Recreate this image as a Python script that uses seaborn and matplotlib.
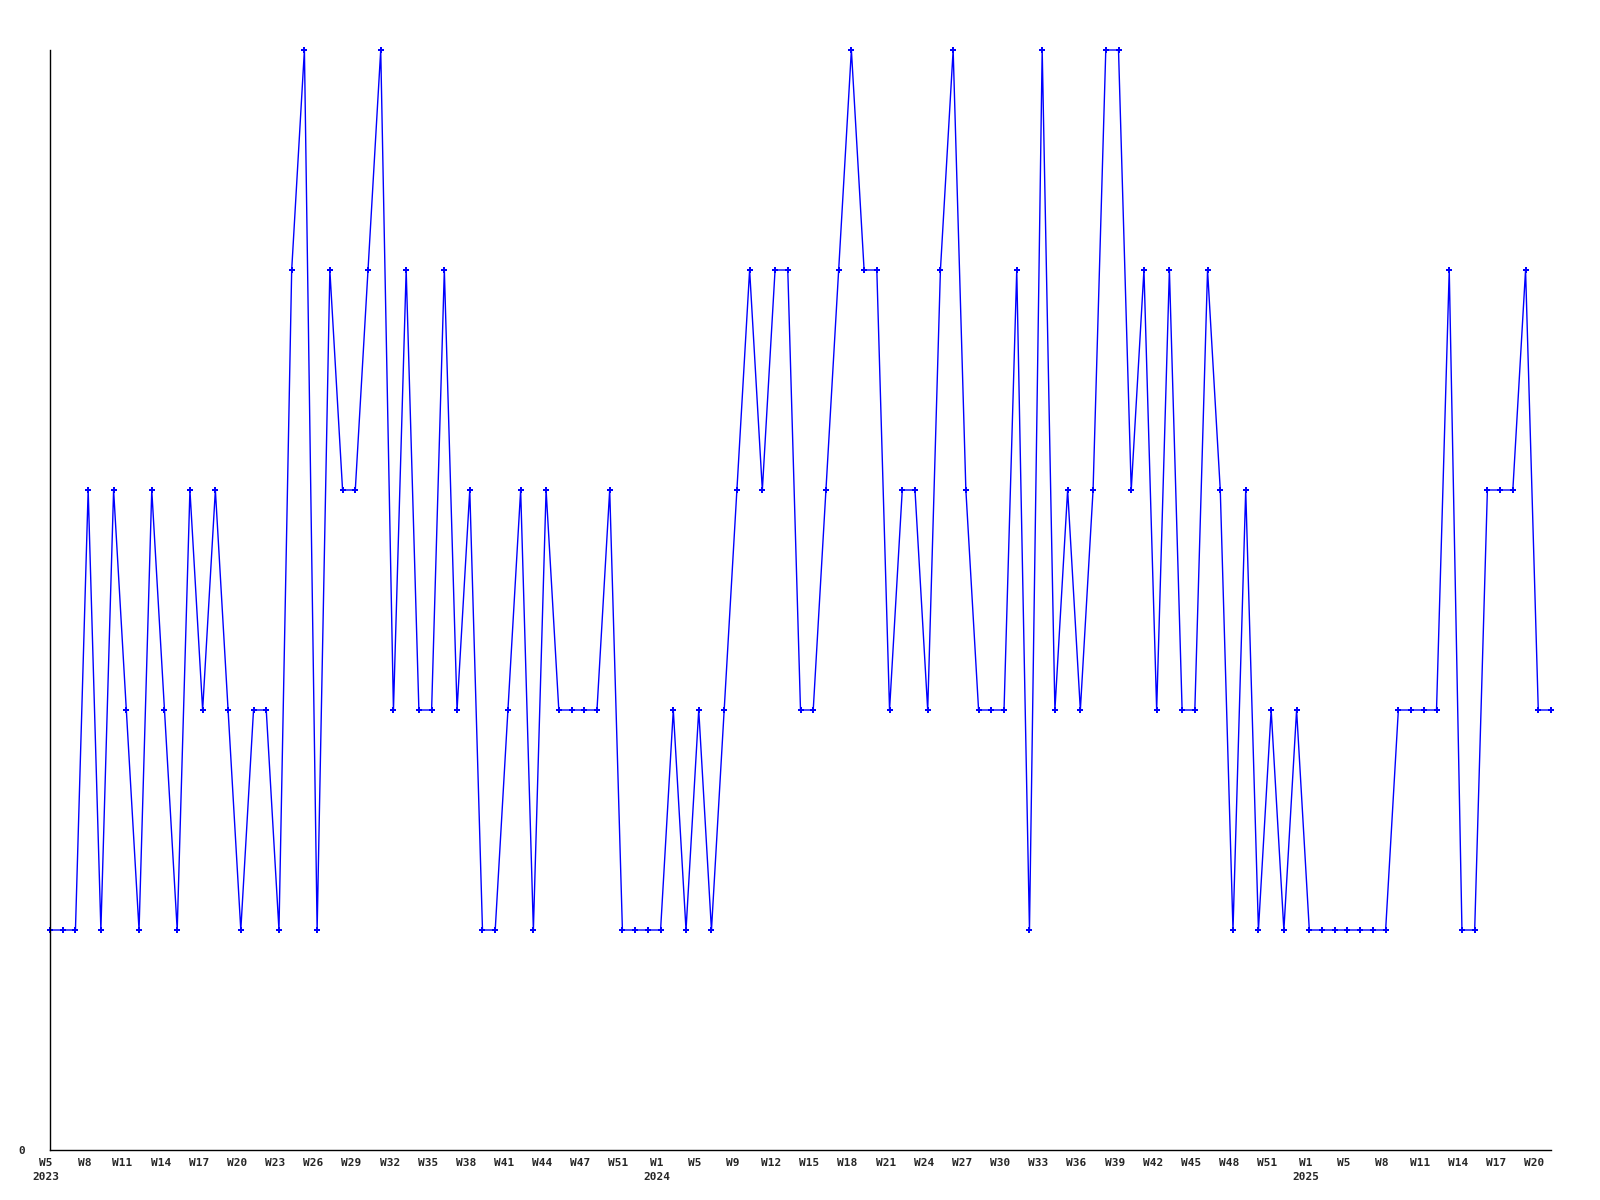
import numpy as np
import pandas as pd
import seaborn as sns
import matplotlib
matplotlib.use("Agg")
import matplotlib.pyplot as plt

# weekly values, 2023 W5 onwards (one value per week)
values = [1, 1, 1, 3, 1, 3, 2, 1, 3, 2,
          1, 3, 2, 3, 2, 1, 2, 2, 1, 4,
          5, 1, 4, 3, 3, 4, 5, 2, 4, 2,
          2, 4, 2, 3, 1, 1, 2, 3, 1, 3,
          2, 2, 2, 2, 3, 1, 1, 1, 1, 2,
          1, 2, 1, 2, 3, 4, 3, 4, 4, 2,
          2, 3, 4, 5, 4, 4, 2, 3, 3, 2,
          4, 5, 3, 2, 2, 2, 4, 1, 5, 2,
          3, 2, 3, 5, 5, 3, 4, 2, 4, 2,
          2, 4, 3, 1, 3, 1, 2, 1, 2, 1,
          1, 1, 1, 1, 1, 1, 2, 2, 2, 2,
          4, 1, 1, 3, 3, 3, 4, 2, 2]

week_labels = ["W5", "W8", "W11", "W14", "W17", "W20", "W23", "W26", "W29", "W32",
               "W35", "W38", "W41", "W44", "W47", "W51",
               "W1", "W5", "W9", "W12", "W15", "W18", "W21", "W24", "W27", "W30",
               "W33", "W36", "W39", "W42", "W45", "W48", "W51",
               "W1", "W5", "W8", "W11", "W14", "W17", "W20"]
year_marks = {0: "2023", 16: "2024", 33: "2025"}

df = pd.DataFrame({"week": np.arange(len(values)), "value": values})

sns.set_style("white")
plt.rcParams["font.family"] = ["DejaVu Sans Mono"]

fig = plt.figure(figsize=(16, 12), dpi=100)
ax = fig.add_axes([50 / 1600, 50 / 1200, 1501 / 1600, 1100 / 1200])

sns.lineplot(data=df, x="week", y="value", ax=ax, color="#0000ff",
             linewidth=1.0, marker="P", markersize=5, markeredgewidth=0,
             clip_on=False)

ax.set_xlim(0, len(values) - 1)
ax.set_ylim(0, 5)

# one label every third week, drawn as text so the first one may sit left of the axis
label_pos = np.arange(len(week_labels)) * 3 - 0.3
for i, (pos, lab) in enumerate(zip(label_pos, week_labels)):
    txt = lab + ("\n" + year_marks[i] if i in year_marks else "")
    ax.text(pos, -8 / 1100, txt, transform=ax.get_xaxis_transform(),
            ha="center", va="top", fontsize=8, fontweight="bold",
            linespacing=1.45, clip_on=False)
ax.set_xticks([])
ax.set_yticks([0])
ax.set_yticklabels(["0"], fontsize=8, fontweight="bold")
ax.tick_params(axis="y", length=0, pad=18)

ax.set_xlabel("")
ax.set_ylabel("")
for side in ["top", "right"]:
    ax.spines[side].set_visible(False)
for side in ["left", "bottom"]:
    ax.spines[side].set_color("black")
    ax.spines[side].set_linewidth(1.0)

fig.savefig("out.png", dpi=100, facecolor="white")
